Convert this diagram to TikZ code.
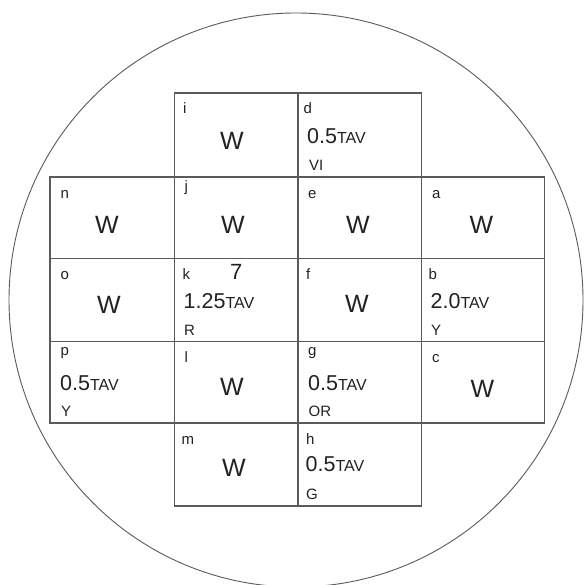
\documentclass[tikz,border=0pt]{standalone}
\usepackage{fontspec}
\setmainfont{Liberation Sans}
\usetikzlibrary{calc}
\definecolor{linegrey}{HTML}{5A5A5A}
\definecolor{ink}{HTML}{222222}
\newcommand\mkcell[5]{\node[cellbox, minimum width=#4pt, minimum height=#5pt] (#1) at (#2,#3) {};}
\newcommand\valtxt[2]{{\fontsize{21.5}{21.5}\selectfont #1}{\fontsize{16}{16}\selectfont #2}}
\begin{document}
\begin{tikzpicture}[x=1pt,y=-1pt,
  cellbox/.style={draw=linegrey, line width=1.1pt, inner sep=0pt, outer sep=0pt, shape=rectangle},
  lbl/.style={anchor=base west, inner sep=0pt, text=ink, font=\fontsize{15}{15}\selectfont},
  wtxt/.style={inner sep=0pt, text=ink, font=\fontsize{25}{25}\selectfont},
  valtext/.style={anchor=base west, inner sep=0pt, text=ink},
  subtxt/.style={anchor=base west, inner sep=0pt, text=ink, font=\fontsize{15}{15}\selectfont}]
\useasboundingbox (0,0) rectangle (584,585);
\fill[white] (0,0) rectangle (584,585);
% wafer outline
\node[draw=linegrey, line width=0.9pt, circle, minimum size=574pt, inner sep=0pt] (wafer) at (296,300) {};
% cells
\mkcell{i}{236.25}{135}{123.5}{84}
\mkcell{d}{359.75}{135}{123.5}{84}
\mkcell{n}{112.25}{217.75}{124.5}{81.5}
\mkcell{j}{236.25}{217.75}{123.5}{81.5}
\mkcell{e}{359.75}{217.75}{123.5}{81.5}
\mkcell{a}{483}{217.75}{123}{81.5}
\mkcell{o}{112.25}{300}{124.5}{83}
\mkcell{k}{236.25}{300}{123.5}{83}
\mkcell{f}{359.75}{300}{123.5}{83}
\mkcell{b}{483}{300}{123}{83}
\mkcell{p}{112.25}{382.25}{124.5}{81.5}
\mkcell{l}{236.25}{382.25}{123.5}{81.5}
\mkcell{g}{359.75}{382.25}{123.5}{81.5}
\mkcell{c}{483}{382.25}{123}{81.5}
\mkcell{m}{236.25}{464.5}{123.5}{83}
\mkcell{h}{359.75}{464.5}{123.5}{83}
% corner letters
\node[lbl] (li) at ($(i.north west)+(8.5,21)$) {i};
\node[lbl] (ld) at ($(d.north west)+(5.5,21)$) {d};
\node[lbl] (ln) at ($(n.north west)+(10.5,21)$) {n};
\node[lbl] (lj) at ($(j.north west)+(10,15)$) {j};
\node[lbl] (le) at ($(e.north west)+(10,21)$) {e};
\node[lbl] (la) at ($(a.north west)+(10.5,21)$) {a};
\node[lbl] (lo) at ($(o.north west)+(10.5,20.5)$) {o};
\node[lbl] (lk) at ($(k.north west)+(8,20.5)$) {k};
\node[lbl] (lf) at ($(f.north west)+(8,20.5)$) {f};
\node[lbl] (lb) at ($(b.north west)+(7,20.5)$) {b};
\node[lbl] (lp) at ($(p.north west)+(10.5,14)$) {p};
\node[lbl] (ll) at ($(l.north west)+(10,21)$) {l};
\node[lbl] (lg) at ($(g.north west)+(10,14)$) {g};
\node[lbl] (lc) at ($(c.north west)+(10.5,21)$) {c};
\node[lbl] (lm) at ($(m.north west)+(7,21)$) {m};
\node[lbl] (lh) at ($(h.north west)+(8,21)$) {h};
% W entries
\node[wtxt] (wi) at (232,141) {W};
\node[wtxt] (wn) at (107,225) {W};
\node[wtxt] (wj) at (233,225) {W};
\node[wtxt] (we) at (358,225) {W};
\node[wtxt] (wa) at (481.5,225) {W};
\node[wtxt] (wo) at (109,304.5) {W};
\node[wtxt] (wf) at (357,304) {W};
\node[wtxt] (wl) at (232,387) {W};
\node[wtxt] (wc) at (482.5,389) {W};
\node[wtxt] (wm) at (234,468) {W};
% values
\node[valtext] (vd) at (307,143.5) {\valtxt{0.5}{TAV}};
\node[subtxt] (sd) at (309,171) {VI};
\node[valtext] (vk) at (183.5,308) {\valtxt{1.25}{TAV}};
\node[subtxt] (sk) at (184,335) {R};
\node[valtext, font=\fontsize{22}{22}\selectfont] (seven) at (230,279) {7};
\node[valtext] (vb) at (430.5,308) {\valtxt{2.0}{TAV}};
\node[subtxt] (sb) at (431,335) {Y};
\node[valtext] (vp) at (60,390) {\valtxt{0.5}{TAV}};
\node[subtxt] (sp) at (61,416) {Y};
\node[valtext] (vg) at (308,390) {\valtxt{0.5}{TAV}};
\node[subtxt] (sg) at (308.5,416) {OR};
\node[valtext] (vh) at (305.5,471) {\valtxt{0.5}{TAV}};
\node[subtxt] (sh) at (306,499) {G};
\end{tikzpicture}
\end{document}
